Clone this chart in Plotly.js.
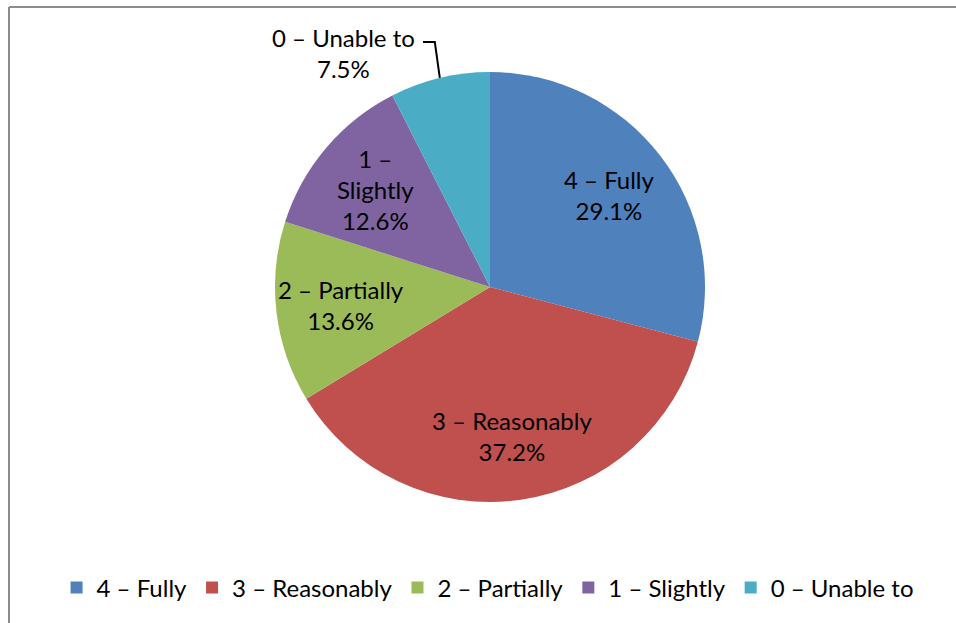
<!DOCTYPE html>
<html>
<head>
<meta charset="utf-8">
<script src="https://cdn.plot.ly/plotly-3.0.1.min.js"></script>
<style>html,body{margin:0;padding:0;background:#fff;}#chart{width:956px;height:623px;}</style>
</head>
<body>
<div id="chart"></div>
<script>
var categories = ["4 – Fully", "3 – Reasonably", "2 – Partially", "1 – Slightly", "0 – Unable to"];
var values = [29.1, 37.2, 13.6, 12.6, 7.5];
var sliceLabels = ["4 – Fully<br>29.1%", "3 – Reasonably<br>37.2%", "2 – Partially<br>13.6%", "1 –<br>Slightly<br>12.6%", "0 – Unable to<br>7.5%"];
var colors = ["#4F81BD", "#C0504D", "#9BBB59", "#8064A2", "#4BACC6"];

var W = 956, H = 623;
var cx = 490, cy = 287, R = 215;
var dom = {x: [(cx - R) / W, (cx + R) / W], y: [(H - cy - R) / H, (H - cy + R) / H]};
var FONT = "Lato, 'Open Sans', sans-serif";

function px(x){return x / W;}
function py(y){return (H - y) / H;}

var total = values.reduce(function(a, b){return a + b;}, 0);
var annotations = [];
var shapes = [
  {type: "line", xref: "paper", yref: "paper", x0: px(9), x1: px(9), y0: py(7), y1: py(623), line: {color: "#8c8c8c", width: 2}},
  {type: "line", xref: "paper", yref: "paper", x0: px(9), x1: px(956), y0: py(7), y1: py(7), line: {color: "#8c8c8c", width: 2}}
];
var cum = 0;
values.forEach(function(v, i){
  var ang = (cum + v / 2) / total * 2 * Math.PI;
  cum += v;
  var sx = Math.sin(ang), sy = -Math.cos(ang);
  if (i < values.length - 1) {
    var r = R * 0.7;
    annotations.push({xref: "paper", yref: "paper", x: px(cx + r * sx), y: py(cy + r * sy),
      xanchor: "center", yanchor: "middle", text: sliceLabels[i], showarrow: false,
      font: {family: FONT, size: 24, color: "#000"}});
  } else {
    // outside label with elbow leader line to the rim at the slice mid-angle
    var ex = cx + R * sx, ey = cy + R * sy;
    annotations.push({xref: "paper", yref: "paper", x: px(343), y: py(53),
      xanchor: "center", yanchor: "middle", text: sliceLabels[i], showarrow: false,
      font: {family: FONT, size: 24, color: "#000"}});
    shapes.push({type: "path", xref: "paper", yref: "paper",
      path: "M" + px(423) + "," + py(42) + " L" + px(ex - 5) + "," + py(42) + " L" + px(ex) + "," + py(ey),
      line: {color: "#000", width: 2}});
  }
});

var trace = {
  type: "pie",
  labels: categories,
  values: values,
  textinfo: "none",
  hoverinfo: "label+percent",
  sort: false,
  direction: "clockwise",
  rotation: 0,
  marker: {colors: colors, line: {width: 0}},
  domain: dom
};

var layout = {
  width: W, height: H,
  margin: {l: 0, r: 0, t: 0, b: 0},
  paper_bgcolor: "#fff",
  showlegend: true,
  legend: {
    orientation: "h", x: 0.51, xanchor: "center", y: py(588), yanchor: "middle",
    font: {family: FONT, size: 24, color: "#000"},
    itemclick: false, traceorder: "normal"
  },
  annotations: annotations,
  shapes: shapes
};

Plotly.newPlot("chart", [trace], layout, {displayModeBar: false, staticPlot: true});
</script>
</body>
</html>
